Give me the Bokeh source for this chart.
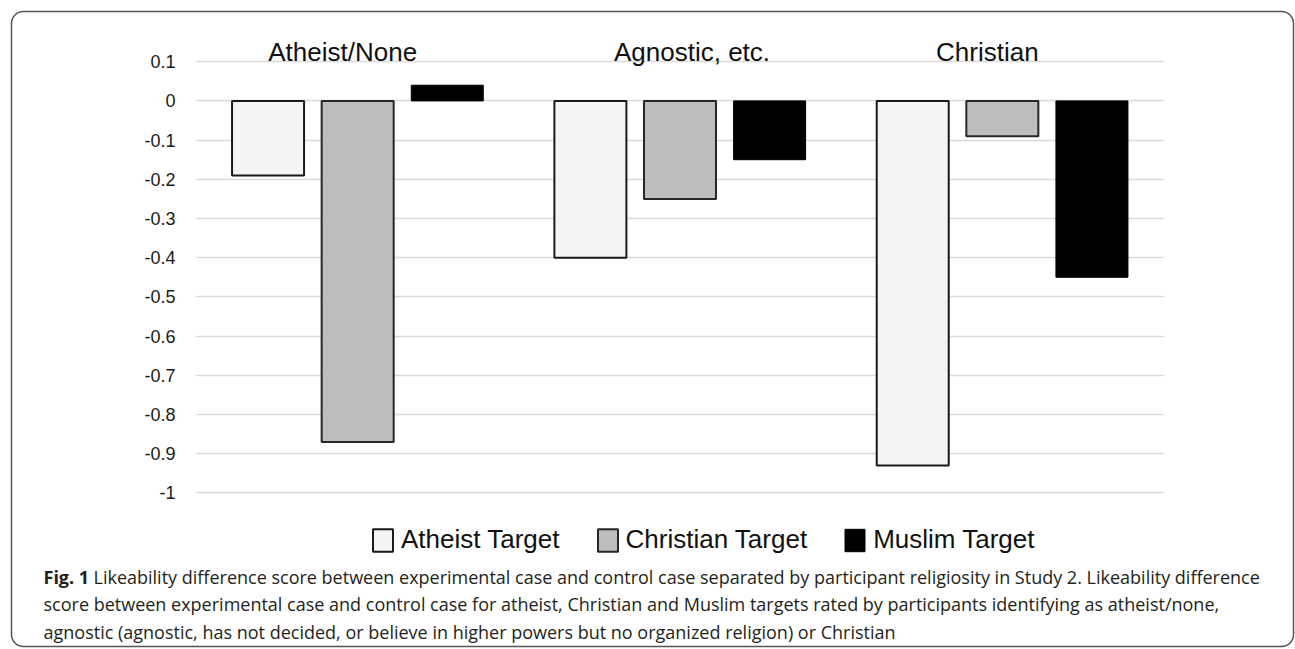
from bokeh.plotting import figure
from bokeh.models import (Range1d, FixedTicker, Legend, LegendItem, Label, Grid,
                          BoxAnnotation, ColumnDataSource)
from bokeh.transform import dodge
from bokeh.core.properties import value
from bokeh.embed import file_html
from bokeh.resources import INLINE

# ---------------- data ----------------
groups = ["Atheist/None", "Agnostic, etc.", "Christian"]
series_names = ["Atheist Target", "Christian Target", "Muslim Target"]
atheist_target = [-0.19, -0.40, -0.93]
christian_target = [-0.87, -0.25, -0.09]
muslim_target = [0.04, -0.15, -0.45]
y_ticks = [0.1, 0.0, -0.1, -0.2, -0.3, -0.4, -0.5, -0.6, -0.7, -0.8, -0.9, -1.0]
y_tick_labels = ["0.1", "0", "-0.1", "-0.2", "-0.3", "-0.4", "-0.5", "-0.6",
                 "-0.7", "-0.8", "-0.9", "-1"]
caption_label = "Fig. 1"
caption_lines = [
    "Likeability difference score between experimental case and control case separated by participant religiosity in Study 2. Likeability difference",
    "score between experimental case and control case for atheist, Christian and Muslim targets rated by participants identifying as atheist/none,",
    "agnostic (agnostic, has not decided, or believe in higher powers but no organized religion) or Christian",
]

# ---------------- layout / style ----------------
W, H = 1295, 649
PLOT_L, PLOT_R = 196, 1163          # pixel extent of the category band
Y_TOP_PX, Y_BOT_PX = 61.2, 492.4     # pixel rows of ticks 0.1 and -1
n = len(groups)
gpx = (PLOT_R - PLOT_L) / n
ypx = (Y_BOT_PX - Y_TOP_PX) / 1.1
x_range = Range1d(-PLOT_L / gpx, (W - PLOT_L) / gpx)
y_range = Range1d(-1 - (H - Y_BOT_PX) / ypx, 0.1 + Y_TOP_PX / ypx)

FILLS = ["#f3f4f4", "#bcbdbf", "#000000"]
LINES = ["#1a1a1a", "#262626", "#000000"]
LWS = [2, 2, 1]
OFFSETS = [-0.278, 0.0, 0.278]
BAR_W = 0.2234
TITLE_XOFF = [-15, 12, -15]
TITLE_BASE_PX = 51
SANS = "Liberation Sans"
CAP_FONT = "Open Sans"
CAP_SIZE = "18px"

gx = [i + 0.5 for i in range(n)]
src = ColumnDataSource(dict(gx=gx, group=groups, a=atheist_target,
                            c=christian_target, m=muslim_target, xoff=TITLE_XOFF))

p = figure(width=W, height=H, output_backend="svg", toolbar_location=None,
           x_range=x_range, y_range=y_range,
           x_axis_location=None, y_axis_location=None,
           min_border=0)
p.outline_line_color = None
p.background_fill_color = "white"
p.border_fill_color = "white"
for g in list(p.grid):
    g.visible = False

grid = Grid(dimension=1, ticker=FixedTicker(ticks=y_ticks),
            grid_line_color="#d9d9d9", grid_line_width=1.5)
if "cross_bounds" in Grid.properties():
    grid.cross_bounds = (0, n)
    p.add_layout(grid)
else:
    p.segment(x0=0, x1=n, y0=y_ticks, y1=y_ticks, line_color="#d9d9d9",
              line_width=1.5)

# y tick labels
p.text(x=[0] * len(y_ticks), y=y_ticks, text=y_tick_labels, x_offset=-21,
       text_align="right", text_baseline="middle", text_font=value(SANS),
       text_font_size="18px", text_color="#1a1a1a")

renderers = []
for col, off, fc, lc, lw in zip(["a", "c", "m"], OFFSETS, FILLS, LINES, LWS):
    r = p.vbar(x=dodge("gx", off), top=col, bottom=0,
               width=BAR_W, source=src, fill_color=fc, line_color=lc,
               line_width=lw)
    renderers.append(r)

# group titles (above the top gridline)
title_y = 0.1 + (Y_TOP_PX - TITLE_BASE_PX) / ypx
p.text(x="gx", y=title_y, text="group", x_offset="xoff", source=src,
       text_align="center", text_baseline="alphabetic",
       text_font=value(SANS), text_font_size="26px", text_color="#111111")

legend = Legend(items=[LegendItem(label=nm, renderers=[r])
                       for nm, r in zip(series_names, renderers)],
                orientation="horizontal", location=(370, 94),
                glyph_width=25, glyph_height=28, label_standoff=6, spacing=35,
                padding=0, margin=0, border_line_color=None,
                background_fill_alpha=0,
                label_text_font=SANS, label_text_font_size="26px",
                label_text_color="#111111")
p.add_layout(legend)

# caption
cap_y = [576, 603.5, 631]
p.add_layout(Label(x=43, y=cap_y[0], x_units="canvas", y_units="canvas",
                   text=caption_label, text_font=CAP_FONT, text_font_style="bold",
                   text_font_size=CAP_SIZE, text_color="#231f20",
                   text_baseline="alphabetic"))
for i, line in enumerate(caption_lines):
    p.add_layout(Label(x=93 if i == 0 else 43, y=cap_y[i], x_units="canvas",
                       y_units="canvas", text=line, text_font=CAP_FONT,
                       text_font_size=CAP_SIZE, text_color="#231f20",
                       text_baseline="alphabetic"))

# rounded outer border
p.add_layout(BoxAnnotation(left=11, right=1293, top=11, bottom=646,
                           left_units="canvas", right_units="canvas",
                           top_units="canvas", bottom_units="canvas",
                           fill_alpha=0, line_color="#555555", line_alpha=1.0,
                           line_width=1.5, border_radius=12, level="overlay"))

open("out.html", "w").write(file_html(p, INLINE))
